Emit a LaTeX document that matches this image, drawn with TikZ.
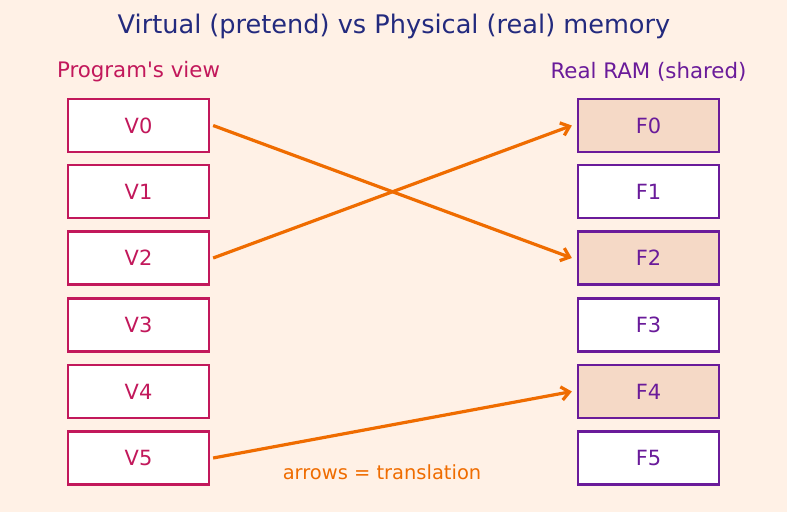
\documentclass[tikz,border=0pt]{standalone}
\usepackage{fontspec}
\setmainfont{DejaVu Sans}[Ligatures=TeXOff]
\usetikzlibrary{arrows.meta}
\definecolor{bgcol}{HTML}{FFF1E6}
\definecolor{virtcol}{HTML}{C2185B}
\definecolor{physcol}{HTML}{6A1B9A}
\definecolor{usedcol}{HTML}{F5D9C6}
\definecolor{mapcol}{HTML}{EF6C00}
\definecolor{titlecol}{HTML}{232A7E}
\tikzset{
	page/.style={x=0.75pt,y=-0.75pt},
	vbox/.style={draw=virtcol,fill=white,line width=2.2pt,minimum width=105.75pt,minimum height=39.75pt,text=virtcol,font=\fontsize{15.7}{18}\selectfont},
	fbox/.style={vbox,draw=physcol,text=physcol},
	mapping/.style={draw=mapcol,line width=2.4pt,-{Straight Barb[length=6pt,width=10pt,line width=2.4pt]}}
}
\begin{document}
\begin{tikzpicture}[page]
	\fill[bgcol] (0,0) rectangle (787,512);
	\useasboundingbox (0,0) rectangle (787,512);

	\node[text=titlecol,font=\fontsize{19.2}{22}\selectfont] (title) at (394,26) {Virtual (pretend) vs Physical (real) memory};
	\node[text=virtcol,font=\fontsize{16}{19}\selectfont] (progview) at (138.5,72) {Program's view};
	\node[text=physcol,font=\fontsize{16}{19}\selectfont] (ramview) at (648.5,72) {Real RAM (shared)};

	\foreach \i/\y in {0/125.5,1/191.5,2/258,3/325,4/391.5,5/458}{
		\node[vbox] (V\i) at (138.5,\y) {V\i};
		\node[fbox] (F\i) at (648.5,\y) {F\i};
	}
	\foreach \i in {0,2,4}
		\node[fbox,fill=usedcol] at (F\i) {F\i};

	\draw[mapping] ([xshift=2pt]V0.east) -- ([xshift=-3.5pt]F2.west);
	\draw[mapping] ([xshift=2pt]V2.east) -- ([xshift=-3.5pt]F0.west);
	\draw[mapping] ([xshift=2pt]V5.east) -- ([xshift=-3.5pt]F4.west);

	\node[text=mapcol,font=\fontsize{14.6}{17}\selectfont] (legend) at (382,472) {arrows = translation};
\end{tikzpicture}
\end{document}
